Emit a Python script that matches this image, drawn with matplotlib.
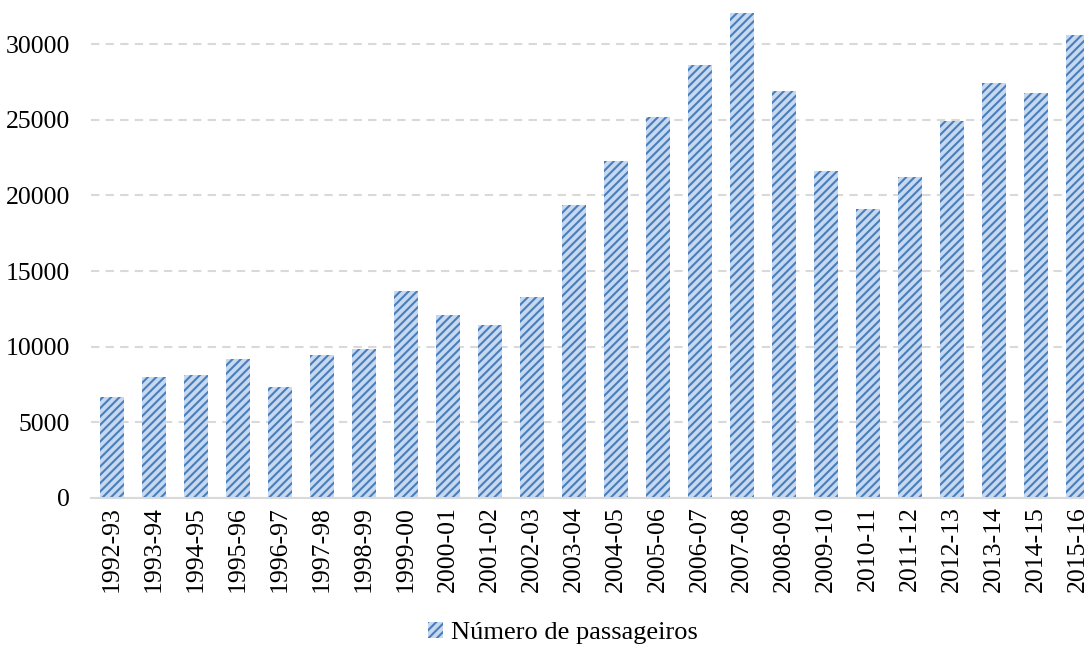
import matplotlib.pyplot as plt
from matplotlib.patches import Patch
import numpy as np

# season labels and passenger counts
seasons = ["1992-93", "1993-94", "1994-95", "1995-96", "1996-97", "1997-98",
           "1998-99", "1999-00", "2000-01", "2001-02", "2002-03", "2003-04",
           "2004-05", "2005-06", "2006-07", "2007-08", "2008-09", "2009-10",
           "2010-11", "2011-12", "2012-13", "2013-14", "2014-15", "2015-16"]
passengers = [6680, 7990, 8130, 9180, 7330, 9450,
              9850, 13680, 12090, 11430, 13280, 19360,
              22270, 25180, 28600, 32300, 26900, 21610,
              19100, 21220, 24910, 27430, 26770, 30600]

plt.rcParams['font.family'] = ['Liberation Serif', 'DejaVu Serif']
plt.rcParams['hatch.linewidth'] = 1.5

fig = plt.figure(figsize=[10.84, 6.46], dpi=100)
ax = fig.add_axes([91/1084, 1 - 498/646, 1008/1084, 485/646])

x = np.arange(len(seasons))
ax.bar(x, passengers, width=0.57, color="#c6d9f1", edgecolor="#4a7ebb",
       linewidth=0, hatch="////", zorder=3)

ax.set_xlim(-0.5, len(seasons) - 0.5)
ax.set_ylim(0, 32050)
ax.set_yticks(range(0, 30001, 5000))
ax.set_xticks(x)
ax.set_xticklabels(seasons, rotation=90)
ax.tick_params(axis='both', length=0, labelsize=18.5, colors="#000000")
ax.tick_params(axis='y', pad=15)
ax.tick_params(axis='x', pad=6)

ax.grid(axis='y', color="#d9d9d9", linestyle=(0, (4, 3)), linewidth=1.5, zorder=0)
for s in ["top", "right", "left"]:
    ax.spines[s].set_visible(False)
ax.spines["bottom"].set_color("#d9d9d9")
ax.spines["bottom"].set_linewidth(1.5)
ax.spines["bottom"].set_zorder(4)

handle = Patch(facecolor="#c6d9f1", edgecolor="#4a7ebb", linewidth=0, hatch="////")
fig.legend(handles=[handle], labels=["Número de passageiros"], loc="center",
           bbox_to_anchor=(563/1084, 1 - 633/646), frameon=False, fontsize=19,
           handlelength=0.55, handleheight=0.55, handletextpad=0.3)

fig.savefig("out.png", dpi=100)
